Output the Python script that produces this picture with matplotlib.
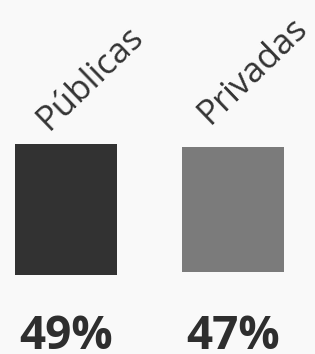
import matplotlib.pyplot as plt

categories = ['Públicas', 'Privadas']
values = [49, 47]
labels = ['49%', '47%']
colors = ['#323232', '#7b7b7b']

fig = plt.figure(figsize=(3.15, 3.54), dpi=100)
fig.patch.set_facecolor('#f9f9f9')
ax = fig.add_axes([0, 0, 1, 1])
ax.set_facecolor('#f9f9f9')
ax.set_xlim(0, 315)
ax.set_ylim(354, 0)
ax.axis('off')

# bars are centred vertically around one line, height proportional to value
centre_y = 209.5
scale = 131 / 49
xs = [66, 233]
heights = [v * scale for v in values]
bottoms = [centre_y - h / 2 for h in heights]
ax.bar(xs, heights, bottom=bottoms, width=102, color=colors)

label_pos = [(49, 131), (210, 125)]
for (lx, ly), name in zip(label_pos, categories):
    ax.text(lx, ly, name, rotation=44, rotation_mode='anchor',
            ha='left', va='baseline', fontsize=25, color='#333333',
            family='Open Sans')

for x, t in zip(xs, labels):
    ax.text(x, 349, t, ha='center', va='baseline', fontsize=33,
            fontweight='bold', color='#2e2e2e', family='Open Sans')

fig.savefig('out.png', dpi=100, facecolor=fig.get_facecolor())
